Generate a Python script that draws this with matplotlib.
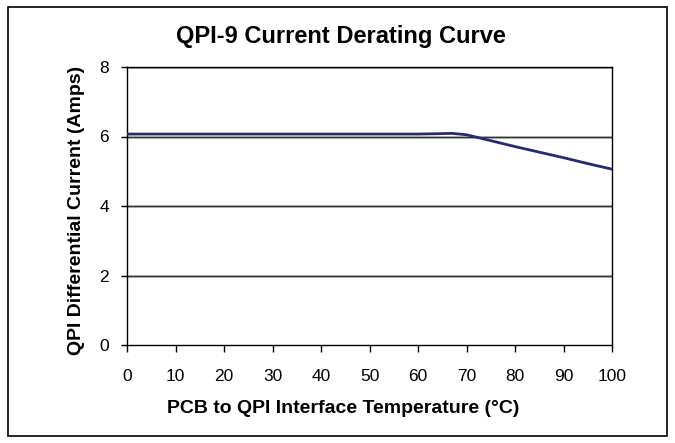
import matplotlib
matplotlib.use("Agg")
import matplotlib.pyplot as plt
from matplotlib.patches import Rectangle

plt.rcParams['font.family'] = ['Liberation Sans', 'DejaVu Sans']

# data
temps = [0, 10, 20, 30, 40, 50, 60, 64, 67, 70, 75, 80, 85, 90, 95, 100]
current = [6.07, 6.07, 6.07, 6.07, 6.07, 6.07, 6.07, 6.08, 6.09, 6.05, 5.88, 5.71, 5.55, 5.39, 5.22, 5.06]
xticks = list(range(0, 101, 10))
yticks = [0, 2, 4, 6, 8]

W, H = 675, 443
fig = plt.figure(figsize=(W / 100, H / 100), dpi=100)
fig.patches.append(Rectangle((8/W, 7/H), 659/W, 429/H, transform=fig.transFigure,
                             fill=False, edgecolor='black', linewidth=1.2))

ax = fig.add_axes([127/W, 1 - 345/H, 485/W, 278/H])
for y in yticks[1:]:
    ax.axhline(y, color='#bbbbbb', linewidth=2.2, zorder=1)
    ax.axhline(y, color='#333333', linewidth=0.9, zorder=2)
ax.plot(temps, current, color='#262a73', linewidth=2, zorder=3)

ax.set_xlim(0, 100)
ax.set_ylim(0, 8)
ax.set_xticks(xticks)
ax.set_yticks(yticks)
ax.tick_params(axis='x', direction='out', length=5, width=1, labelsize=12.5, pad=12)
ax.tick_params(axis='y', direction='out', length=4, width=1, labelsize=12.5, pad=9)
for s in ax.spines.values():
    s.set_linewidth(1)

# titles placed on the figure like the original
fig.text(341/W, 1 - 43/H, "QPI-9 Current Derating Curve", fontsize=17, fontweight='bold',
         ha='center', va='baseline')
fig.text(343/W, 1 - 413/H, "PCB to QPI Interface Temperature (°C)", fontsize=14, fontweight='bold',
         ha='center', va='baseline')
fig.text(77/W, 1 - 210/H, "QPI Differential Current (Amps)", fontsize=14, fontweight='bold',
         ha='center', va='center', rotation=90)

fig.savefig("out.png", dpi=100)
